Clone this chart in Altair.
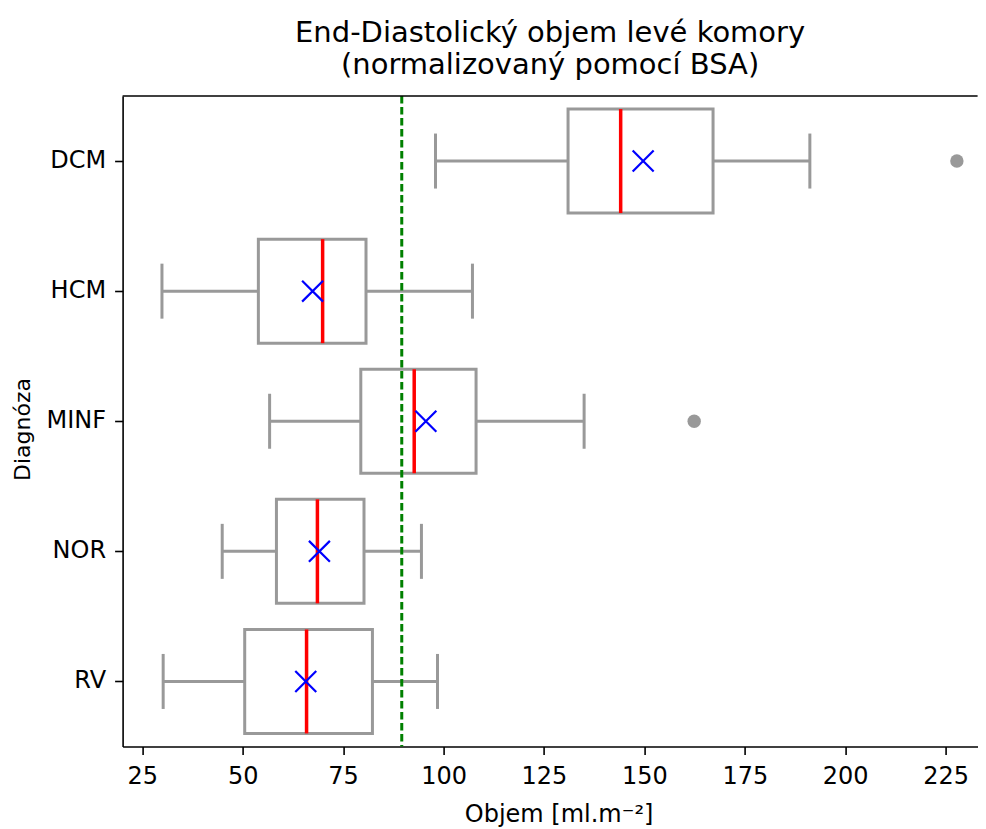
import altair as alt
import pandas as pd

# ---- data ----
categories = ["DCM", "HCM", "MINF", "NOR", "RV"]
whisker_low = [98.0, 29.9, 56.7, 44.9, 30.2]
q1 = [131.0, 53.9, 79.4, 58.4, 50.5]
median = [144.1, 69.9, 92.7, 68.6, 65.9]
q3 = [167.1, 80.7, 108.1, 80.2, 82.3]
whisker_high = [191.2, 107.2, 135.0, 94.5, 98.5]
mean = [149.7, 67.4, 95.6, 69.1, 65.7]
outlier_cat = ["DCM", "MINF"]
outlier_val = [227.8, 162.4]
reference = [89.6]
x_ticks = [25, 50, 75, 100, 125, 150, 175, 200, 225]

stats = pd.DataFrame({
    "diag": categories, "lo": whisker_low, "q1": q1, "median": median,
    "q3": q3, "hi": whisker_high, "mean": mean,
})
fl = pd.DataFrame({"diag": outlier_cat, "value": outlier_val})
ref = pd.DataFrame({"value": reference})

FONT = "DejaVu Sans"
GREY = "#999999"
W, H = 855, 650.5

x_scale = alt.Scale(domain=[20.1, 232.96], nice=False, zero=False)
y_scale = alt.Scale(domain=categories, paddingInner=0, paddingOuter=0)

x_axis = alt.Axis(
    values=x_ticks, grid=False, format="d",
    domainColor="black", domainWidth=1.6, tickColor="black", tickWidth=1.6, tickSize=8,
    labelFont=FONT, labelFontSize=24, labelColor="black", labelPadding=10.5, labelFlush=False,
    title="Objem [ml.m⁻²]", titleFont=FONT, titleFontSize=24, titleFontWeight="normal",
    titleColor="black", titleBaseline="alphabetic", titleAlign="center", titleX=436, titleY=75.5,
)
y_axis = alt.Axis(
    grid=False,
    domainColor="black", domainWidth=1.6, tickColor="black", tickWidth=1.6, tickSize=8,
    labelFont=FONT, labelFontSize=24, labelColor="black", labelPadding=9,
    title="Diagnóza", titleFont=FONT, titleFontSize=22, titleFontWeight="normal",
    titleColor="black", titleAngle=270, titleBaseline="alphabetic", titleAlign="center",
    titleX=-93.5, titleY=333,
)

def X(field):
    return alt.X(field, scale=x_scale, axis=x_axis)

Y = alt.Y("diag:N", scale=y_scale, axis=y_axis, sort=categories)

base = alt.Chart(stats)

whisk_lo = base.mark_rule(color=GREY, strokeWidth=3).encode(x=X("lo:Q"), x2="q1:Q", y=Y)
whisk_hi = base.mark_rule(color=GREY, strokeWidth=3).encode(x=X("q3:Q"), x2="hi:Q", y=Y)
cap_lo = base.mark_tick(color=GREY, size=55, thickness=3, opacity=1).encode(x=X("lo:Q"), y=Y)
cap_hi = base.mark_tick(color=GREY, size=55, thickness=3, opacity=1).encode(x=X("hi:Q"), y=Y)
box = base.mark_bar(fill="white", stroke=GREY, strokeWidth=3, size=104).encode(
    x=X("q1:Q"), x2="q3:Q", y=Y)
med = base.mark_tick(color="red", size=104, thickness=3.5, opacity=1).encode(x=X("median:Q"), y=Y)
ref_line = alt.Chart(ref).mark_rule(color="green", strokeWidth=3, strokeDash=[7.5, 3.5]).encode(
    x=X("value:Q"))
mean_pt = base.mark_point(shape="M-1,-1L1,1M-1,1L1,-1", size=440, filled=False,
                          color="blue", strokeWidth=2.2, opacity=1).encode(x=X("mean:Q"), y=Y)
fliers = alt.Chart(fl).mark_circle(color=GREY, size=180, opacity=1).encode(x=X("value:Q"), y=Y)
# top spine of the frame (right spine falls outside the picture in the reference)
top_spine = alt.Chart(ref).mark_rule(color="black", strokeWidth=1.6).encode(
    x=alt.value(0), x2=alt.value(W), y=alt.value(0))

chart = alt.layer(
    whisk_lo, whisk_hi, cap_lo, cap_hi, box, med, ref_line, mean_pt, fliers, top_spine
).properties(
    width=W, height=H,
    title=alt.TitleParams(
        text=["End-Diastolický objem levé komory", "(normalizovaný pomocí BSA)"],
        font=FONT, fontSize=29, fontWeight="normal", color="black",
        anchor="middle", frame="group", offset=14, lineHeight=33,
    ),
    autosize=alt.AutoSizeParams(type="none"),
    padding={"left": 114.6, "top": 88, "right": 0, "bottom": 82},
).configure_view(stroke=None)

chart.save("out.html", embed_options={"renderer": "svg", "actions": False})
